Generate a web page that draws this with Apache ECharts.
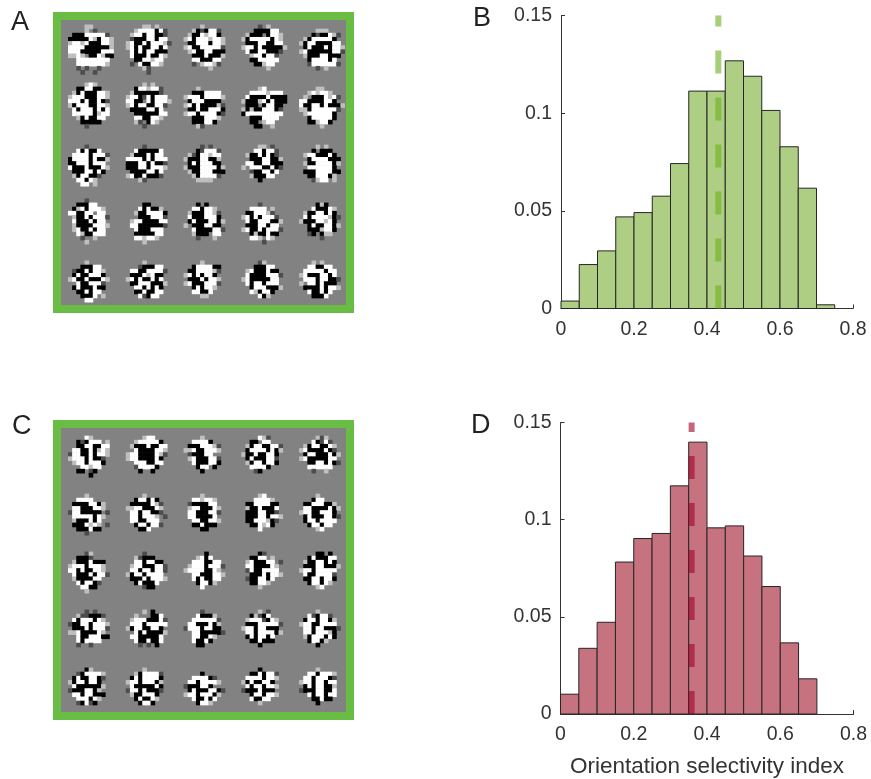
<!DOCTYPE html>
<html><head><meta charset="utf-8">
<style>html,body{margin:0;padding:0;background:#fff}#c{width:871px;height:779px}</style>
<script src="https://cdn.jsdelivr.net/npm/echarts@6/dist/echarts.min.js"></script>
</head><body><div id="c"></div>
<script>
// Bin heights of the histograms (bin width 0.05)
const binWidth = 0.05;
const histB = [.0038,.0225,.0295,.0469,.0491,.0575,.0742,.1113,.1113,.1268,.1189,.1014,.0828,.0616,.0019];
const histD = [.0102,.0338,.0472,.0782,.0903,.0929,.1174,.1399,.0958,.0968,.0813,.0656,.0366,.0181];
const meanB = 0.431;
const meanD = 0.358;
const xTicksMax = 0.8;
const yTicksMax = 0.15;
const xTitle = 'Orientation selectivity index';
// Receptive-field patches, read row by row: # black, - dark, . background, + light, o white
const shades = {'#':0,'-':0.3,'+':0.75,'o':1};
const patchesA = [
'.....++...... .....+.-..... ..###ooooo-.. .#####o+#oo+. .+oo+o###oo+. .oooo######+. .ooo#####ooo. .++o+.##o+##. ...oooooooo.. ...ooooooo+.. ...-.-..-.... ....-..-.....',
'.....++.+.... ...+oooo#o-.. ..+oo#oo##-.. ..-###oo#oo.. .+o##o#ooo+-. .+o#o##oo#o.. ..o#o#oo###.. ..o###o##o+.. ...##oo+oo... ..-.o##oo+... .....+-...... ......-......',
'.....+....... ...+#-#oo-... ..+##o+oo#... .+o#ooo+oo+.. ..##ooo#oo+.. .+o##ooooo-.. ..+o##oo###.. ...###o###+.. ...oo###oo... ...-.+oo+-... .......+.....',
'.....-.+..... ....####oo... ..+###.#oo+.. .+#ooooo#o+.. ..###oo##oo.. .+oo#o#####+. ..o##oo###-.. ...+oo#oo-... ...##ooooo... ....##+oo.... .......+.....',
'.....+++..... ....#-##o+-.. ..+#ooooo#... .+#oo####oo.. ..#o###o#oo+. .+o######oo-. ..+###oo###.. ...#oooo#o... ...-oooooo-.. .....-.+.....',
'.....+o+..... ...##oo##.... ..+#o###oo+.. .+ooo###oo+.. .ooo#o##o#-.. .+#ooo##oo+.. ..o#ooo#o#o.. ..ooooo#+oo.. ...+#o##oo... ....#####.... .....-.......',
'.....+.+..... ...#oo+oo-... ..+######-... .+oo#-o#ooo.. .oo##.o#ooo+. .+o#oo##oo-.. ..####oo#o... ...######oo.. ...oo##oo+... ...+-.#o+.... .....-.......',
'....+........ ...###oooo... .+ooo#oooo+.. ..#ooo####... .+o#o####+-.. ..##o##ooo#.. .+oo#oooo#-.. ...###ooo+... ...###oo#.... ....+-.......',
'.....+o...... ...oooo+ooo.. ..o####o####. .+###+o#o###. ..###.#oo##.. .+#+##ooo#-.. .#ooooooooo.. ...###oooo... ...##.+oo.... ....##..+....',
'.....++...... ...+o+oo+.... ..+.###o+o-.. .oo####oo#... .o##oo#o###+. .++#oooooo-.. ..+oooooo#... ...#ooooo#... ...##+oo#.... ......+......',
'.....-....... ...o#o##o.... ..oooo#ooo-.. .#oooo#o##+.. .##ooo#ooo... .o###o###o+.. ..###oo#o#... ..+#oo##-.... ...oo#o+..... ....oo.+.....',
'.....-....... ...o#####o... ..+###o#oo... .oooo#o#ooo.. .###oo#o##-.. .###oo#ooo+.. ..####oo#o... .+o##o###-... ....+-.......',
'.....-.-..... ....#-ooo-... ..+-#oo+oo... .+###oo##+... ..#o#ooo##... .+###oooo#+.. ..+##ooo###.. ...+#oooo-... ....++++.....',
'.....++.-.... ....oo#oo-... ..+##o#o#-... ...###oo##+.. ..oo##oo###.. .+.ooo##o#-.. ...-##oo#o... ...+###oo.... .....#.......',
'.....+.+..... ....#.###.... ..+oo###o#... ...#oooo###.. ..+##oooo#+.. ...oooooo#... ..###oooo##.. ...##ooo#+... ....-+oo.+...',
'.....-....... ...###oo..... ..#+o#ooo+... .oo##oo.oo... ..+##o#ooo-.. ..o###o#oo... ..+####ooo+.. ..+o##o#oo... ...o+##ooo... ....-..+..... .....+.......',
'.....##...... ....o#o##+... ...+##oooo#.. ....###ooo-.. ..+oo####oo.. ..oo######-.. ...o###ooo... ...#####oo... ...oo+oo+.... .....+.......',
'....#.#...... ...oo#oo+.... ..+###oo+-... ..o###ooo#... ..#o###oo#+.. .+.###oo##... ...o####oo-.. ...+###.oo... ....-...+....',
'.....-....... ...oooo.+.... ..##ooo+-.... .+o#o#ooo-... ..o##ooo##+.. ..###oo#oo... .+o##o#ooo-.. ...#+##o##... ...oo+.o+.... ......-......',
'.....#+#..... ....o###o+... ..+##oo#o#... ..o#oooo+#-.. .+###oo+o#... ...#o##oo#+.. ...###+oo#... ...-#.#++.... ......-......',
'.....+....... ....###oo.... ..-##o#oo+... ..#o##ooo#... .+o##o###o+.. ...o##ooo-... ..#o###o##... ...##o#oo.... ....###o.+... .....oo......',
'.....+....... ....-###oo... ..oo##oooo-.. ..###o+o##... .+o#o##o#o... ..##ooo###+.. ...oo#o#o#... ...##o##oo... ....o-#oo....',
'.....+....... ...#oooo##... ..##oooo+-... .+o#o#oo#.... ..###o#oo+... .+o###ooo-... ...#o#oo+.... ...oo##o..... .....++......',
'.....-+...... ....###oo.... ..+o###o##... ..o####ooo-.. .+o#####oo... ..o#oo#ooo... ...#ooo###+.. ...o+#oo#.... .....o#+.....',
'....+.+...... ...oo##oo.... ..ooooo#oo... .+o###oo#o... ..ooo#oo##-.. .+.oo#o###... ..####o#oo+.. ...o##o#o.... ....###o.....'
];
const patchesC = [
'.....o+...... ...#-#ooo.+.. ...##oo##oo.. ..oo##o#+o+.. .-oo##o#oo+.. .+ooo#o##-... ..+oo#ooo#... ....oo+oo.... ...##.-#..... ......#......',
'.....+oo..... ...+ooooo#... ..+###o##oo.. ...o####oo+.. .+oo####o+-.. .+oo####o#... ...ooo##oo... ...-oooo#.... ....#..#.....',
'.....+....... ...oooo#..... ..###ooo+-... .++o##ooo+... ..-###oo..... ..+o###oo-... ...o###oo#... ....#oo.#.... .....#.......',
'.....o+-..... ...##.oo..... ..+#oo##oo-.. ..#oooo#o#+.. .+##o##oo#... ..#o###oo-... ..+#oo#oo#... ...oooo#..... ....-#.......',
'.....+-+..... ....o#-o-.... ..+#oo##o+... .+o####o#-... ..#oo###o#+.. .+o#####oo... ...##oo#o#-.. ...oooooo.... ....-..+.....',
'.....+....... ...oooo...... ..####oo#+... ..oo###oo+... .-oo#####.-.. ..ooooo#o+... ..+###o#o.... ..###o+o+.-.. ...###o##.... .....-.......',
'.....+....... ...#oo#o#.... ..#####o+-... .++oo###o+... ..oo#oo##-... ..oo#ooo+.-.. ..oo##ooo.... ...#oo#oo-... ....##o......',
'.....+....... ...oo+oo+.... ..-####oo.... ..+oo###o+... ..oo###oo-... ..oo####o.... ...oo##oo+... ...##o###.... .....##......',
'.....+o...... ....oooo+.... ..##oooo##... ..+##o###o... ..###oo##-... ..###oo#oo+.. ..##ooo+#-... ...##o+o#.... .....o.......',
'.....+....... ....#oo...... ..##ooo##+... ..oo####o#+.. .+oo##ooo#... ..#o###oo#-.. ..#oo#oooo... ...#oo#oo.... .....+o......',
'.....-+...... ...###-...... ..+###o###... .+ooo#ooo+... .oo#o##oo+... ..o###o#oo-.. ..+####oo.... ...o#oo#-.... ....oo##..... .....+.......',
'.....-....... ...+-###..... ...oo#oo##... ..+oo###oo-.. ..oo#oo#oo-.. .+#oo#oooo... ..###o#ooo+.. ...#o###o.... .....-##.....',
'......#...... ....+o#o..... ...ooo##oo... ..+ooo#ooo-.. .+oooo##o+... ...oo###oo+.. ...o#o##oo... ....#oo#+.... .....o.......',
'.....#-...... ...##oo.+.... ..+o###oo.-.. ..oo####o+... ..-o##oooo... ...###o#oo+.. ..-##oo#o.... ...##oo+..... .....+.......',
'.....##.#.... ...#o###oo... ..+##oo#o#... ..###oo###+.. .+oo#ooooo... ..o##oooo-... ..##oo#oo#... ...#oo#o+.... .....+o......',
'.....-.-..... ...+--###-... ..o#ooo#o+... .-##oo#ooo+.. ..###o#ooo-.. .++o####o+... ...o##ooo##.. ...o#oooo.... ...-..-......',
'.....+.#..... ...+...##o... ..+ooo###o-.. ..ooo#ooooo.. .+#oo##oo#... ...o#o####+.. ..oo#####o... ...o##o##o... ....-.-.#....',
'.....-....... ....o###+.... ...oooooo-... ..oo###o#+... .-ooo#oo##... ...oo#####-.. ...oo##o+.... ...o##o#..... ....##.......',
'.....+.-..... ...#+-#o..... ..+ooo-#o+... ..###ooooo-.. .+oo#oo###... ..oo#oooo#+.. ..#o#oo#o.... ...##o###.... .....#.......',
'.....+....... ...o-#oo-.... ..#oo#oo#+... .+oo##oooo... ..oo#oo###-.. ..oo#ooo+#... ..+#ooo#o#... ...#oo#+..... .....#.......',
'.....#+...... ...-#oooo+... ..#o##oo#-... .+#oo#oo#.... ..o######+... .-###oo#+.... ..oo#oo###.. ...ooo#o+.... ...-#o-#.....',
'.....+....... ...+#oooo-... ..#o#oooo#... .+oo#ooo#+... ..o#####o#... .-oo#o###-... ..+##ooo#.... ...#o##o+.... ....#oo#.....',
'.....#....... ...oooo#-.... ..oo#oooo+... .-###oo#..... ..#o###oo#-.. .+oo#ooo#+... ...o##o#o.... ....#oo+.....',
'.....#....... ...##o#oo-... ..oooo#oo+... .+#o##oo#.... ..o#oo#oo+.. .-###o###.... ...#oo#oo+... ...o##oo..... .....+.......',
'.....+....... ...oo#ooo+... ..oo#ooo#-... .+oo#oo#oo... ..#o#oo##+... .-###oo##o... ...o#oo#oo... ....##o##.... .....#.......'
];
const patchPitch = 14, gridCells = 71, patchRows = 14;

function cells(patches){
  const out = [];
  patches.forEach((p,i)=>{
    const rows = p.split(' ');
    const col = i % 5, row = Math.floor(i/5);
    const top = Math.floor((patchRows-rows.length)/2);
    rows.forEach((r,y)=>{
      for(let x=0;x<r.length;x++){
        const v = shades[r[x]];
        if(v!==undefined) out.push([1+col*patchPitch+x, 1+row*patchPitch+top+y, v]);
      }
    });
  });
  return out;
}
const cats = Array.from({length:gridCells},(_, i)=>i);
function bins(h){ return h.map((v,i)=>[i*binWidth,(i+1)*binWidth,v]); }
function histSeries(h,ax,fill){
  return {type:'custom',xAxisIndex:ax,yAxisIndex:ax,silent:true,z:2,clip:false,
    data:bins(h),encode:{x:[0,1],y:2},
    renderItem:(params,api)=>{
      const a=api.coord([api.value(0),api.value(2)]);
      const b=api.coord([api.value(1),0]);
      return {type:'rect',shape:{x:a[0],y:a[1],width:b[0]-a[0],height:b[1]-a[1]},
        style:{fill:fill,stroke:'#262626',lineWidth:1}};
    }};
}
function meanSeries(x,ax,color){
  return {type:'line',xAxisIndex:ax,yAxisIndex:ax,silent:true,z:5,symbol:'none',clip:false,
    data:[[x,0],[x,yTicksMax]],
    lineStyle:{color:color,width:6,type:[23,24],cap:'butt'}};
}
const txt = {fontFamily:'"Liberation Sans",Arial,sans-serif',fontSize:19.5,color:'#333'};
function hideAxis(ax){ return Object.assign({type:'category',data:cats,show:false},ax); }
function valAxis(i,max,interval,margin,extra){
  return Object.assign({type:'value',gridIndex:i,min:0,max:max,interval:interval,
    splitLine:{show:false},
    axisLine:{show:true,onZero:false,lineStyle:{color:'#333',width:1}},
    axisTick:{show:true,inside:true,length:4,lineStyle:{color:'#333',width:1}},
    axisLabel:Object.assign({margin:margin},txt)},extra||{});
}
function yLabelNudge(ax){ ax.axisLabel.padding=[0,0,5,0]; return ax; }
function letter(s,x,y){
  return {type:'text',x:x,y:y,style:{text:s,font:'27px "Liberation Sans",Arial,sans-serif',fill:'#222'}};
}
const chart = echarts.init(document.getElementById('c'),null,{renderer:'canvas'});
chart.setOption({
  animation:false,
  backgroundColor:'#fff',
  grid:[
    {left:60,top:16.5,width:293,height:294},
    {left:60,top:423.5,width:293,height:294},
    {left:561,top:15.5,width:292,height:293},
    {left:560.5,top:422.5,width:293,height:293.5},
    {left:57,top:16,width:293,height:293,show:true,backgroundColor:'#828282',borderColor:'#69bd45',borderWidth:8},
    {left:57,top:424,width:293,height:292,show:true,backgroundColor:'#828282',borderColor:'#69bd45',borderWidth:8}
  ],
  xAxis:[
    hideAxis({gridIndex:0}),hideAxis({gridIndex:1}),
    valAxis(2,xTicksMax,0.2,11),
    valAxis(3,xTicksMax,0.2,11,{name:xTitle,nameLocation:'middle',nameGap:41,nameTextStyle:Object.assign({},txt,{fontSize:22.5})}),
    hideAxis({gridIndex:4}),hideAxis({gridIndex:5})
  ],
  yAxis:[
    hideAxis({gridIndex:0,inverse:true}),hideAxis({gridIndex:1,inverse:true}),
    yLabelNudge(valAxis(2,yTicksMax,0.05,9)),
    yLabelNudge(valAxis(3,yTicksMax,0.05,9)),
    hideAxis({gridIndex:4,inverse:true}),hideAxis({gridIndex:5,inverse:true})
  ],
  visualMap:{show:false,seriesIndex:[0,1],min:0,max:1,dimension:2,inRange:{color:['#000000','#ffffff']}},
  series:[
    {type:'heatmap',xAxisIndex:0,yAxisIndex:0,data:cells(patchesA),silent:true,progressive:0,z:3},
    {type:'heatmap',xAxisIndex:1,yAxisIndex:1,data:cells(patchesC),silent:true,progressive:0,z:3},
    histSeries(histB,2,'#aecf83'),
    meanSeries(meanB,2,'rgba(107,175,30,0.6)'),
    histSeries(histD,3,'#c7727f'),
    meanSeries(meanD,3,'rgba(160,0,40,0.6)')
  ],
  graphic:[letter('A',11,9),letter('B',473,5),letter('C',12,413),letter('D',471,412)]
});
</script></body></html>
